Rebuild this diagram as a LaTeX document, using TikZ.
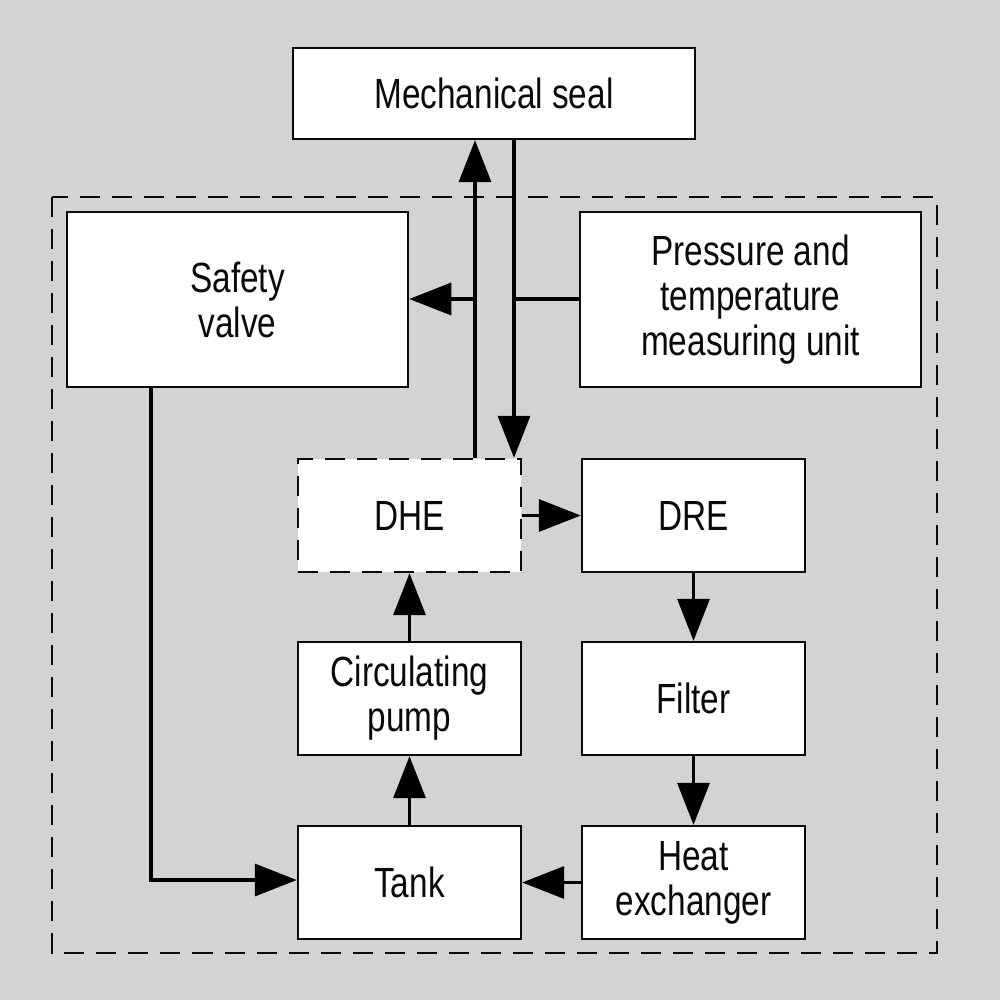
\documentclass[tikz,border=0pt]{standalone}
\usepackage{fontspec}
\setmainfont[FakeStretch=0.79]{Liberation Sans}
\usetikzlibrary{arrows.meta}
\definecolor{bg}{RGB}{211,211,211}
\definecolor{ink}{RGB}{10,10,10}
\tikzset{
  box/.style={draw=ink, fill=white, line width=0.65pt, rectangle, inner sep=0pt, align=center,
    font=\fontsize{12}{12.8}\selectfont, text=ink},
  dbox/.style={box, dash pattern=on 0.2cm off 0.12cm},
  link/.style={draw=black, line width=0.95pt},
  arr/.style={link, -{Triangle[length=0.42cm, width=0.32cm]}},
}
\begin{document}
\begin{tikzpicture}[x=0.01cm, y=-0.01cm]
\fill[bg] (0,0) rectangle (1000,1000);
\useasboundingbox (0,0) rectangle (1000,1000);
% outer dashed frame
\draw[draw=ink, line width=0.65pt, dash pattern=on 0.2cm off 0.12cm] (52,197) rectangle (937,953);
% boxes
\node[box, minimum width=4.02cm, minimum height=0.91cm] (seal) at (494,93.5) {Mechanical seal};
\node[box, minimum width=3.41cm, minimum height=1.75cm] (sv) at (237.5,299.5) {Safety\\valve};
\node[box, minimum width=3.41cm, minimum height=1.75cm] (pt) at (750.5,299.5) {Pressure and\\temperature\\measuring unit};
\node[dbox, minimum width=2.23cm, minimum height=1.13cm] (dhe) at (409.5,515.5) {DHE};
\node[box, minimum width=2.23cm, minimum height=1.13cm] (dre) at (693.5,515.5) {DRE};
\node[box, minimum width=2.23cm, minimum height=1.13cm] (pump) at (409.5,698.5) {Circulating\\pump};
\node[box, minimum width=2.23cm, minimum height=1.13cm] (filter) at (693.5,698.5) {Filter};
\node[box, minimum width=2.23cm, minimum height=1.13cm] (tank) at (409.5,882.5) {Tank};
\node[box, minimum width=2.23cm, minimum height=1.13cm] (hx) at (693.5,882.5) {Heat\\exchanger};
% helper coordinates
\coordinate (cu) at (475,299);
\coordinate (cd) at (514,299);
\coordinate (cs) at (151,880);
% connectors
\draw[arr] (dhe.north -| cu) -- (seal.south -| cu);
\draw[arr] (seal.south -| cd) -- (dhe.north -| cd);
\draw[arr] (cu) -- (sv.east |- cu);
\draw[link] (cd) -- (pt.west |- cd);
\draw[arr] (sv.south -| cs) -- (cs) -- (tank.west |- cs);
\draw[arr] (dhe.east) -- (dre.west);
\draw[arr] (dre.south) -- (filter.north);
\draw[arr] (filter.south) -- (hx.north);
\draw[arr] (hx.west) -- (tank.east);
\draw[arr] (tank.north) -- (pump.south);
\draw[arr] (pump.north) -- (dhe.south);
\end{tikzpicture}
\end{document}
